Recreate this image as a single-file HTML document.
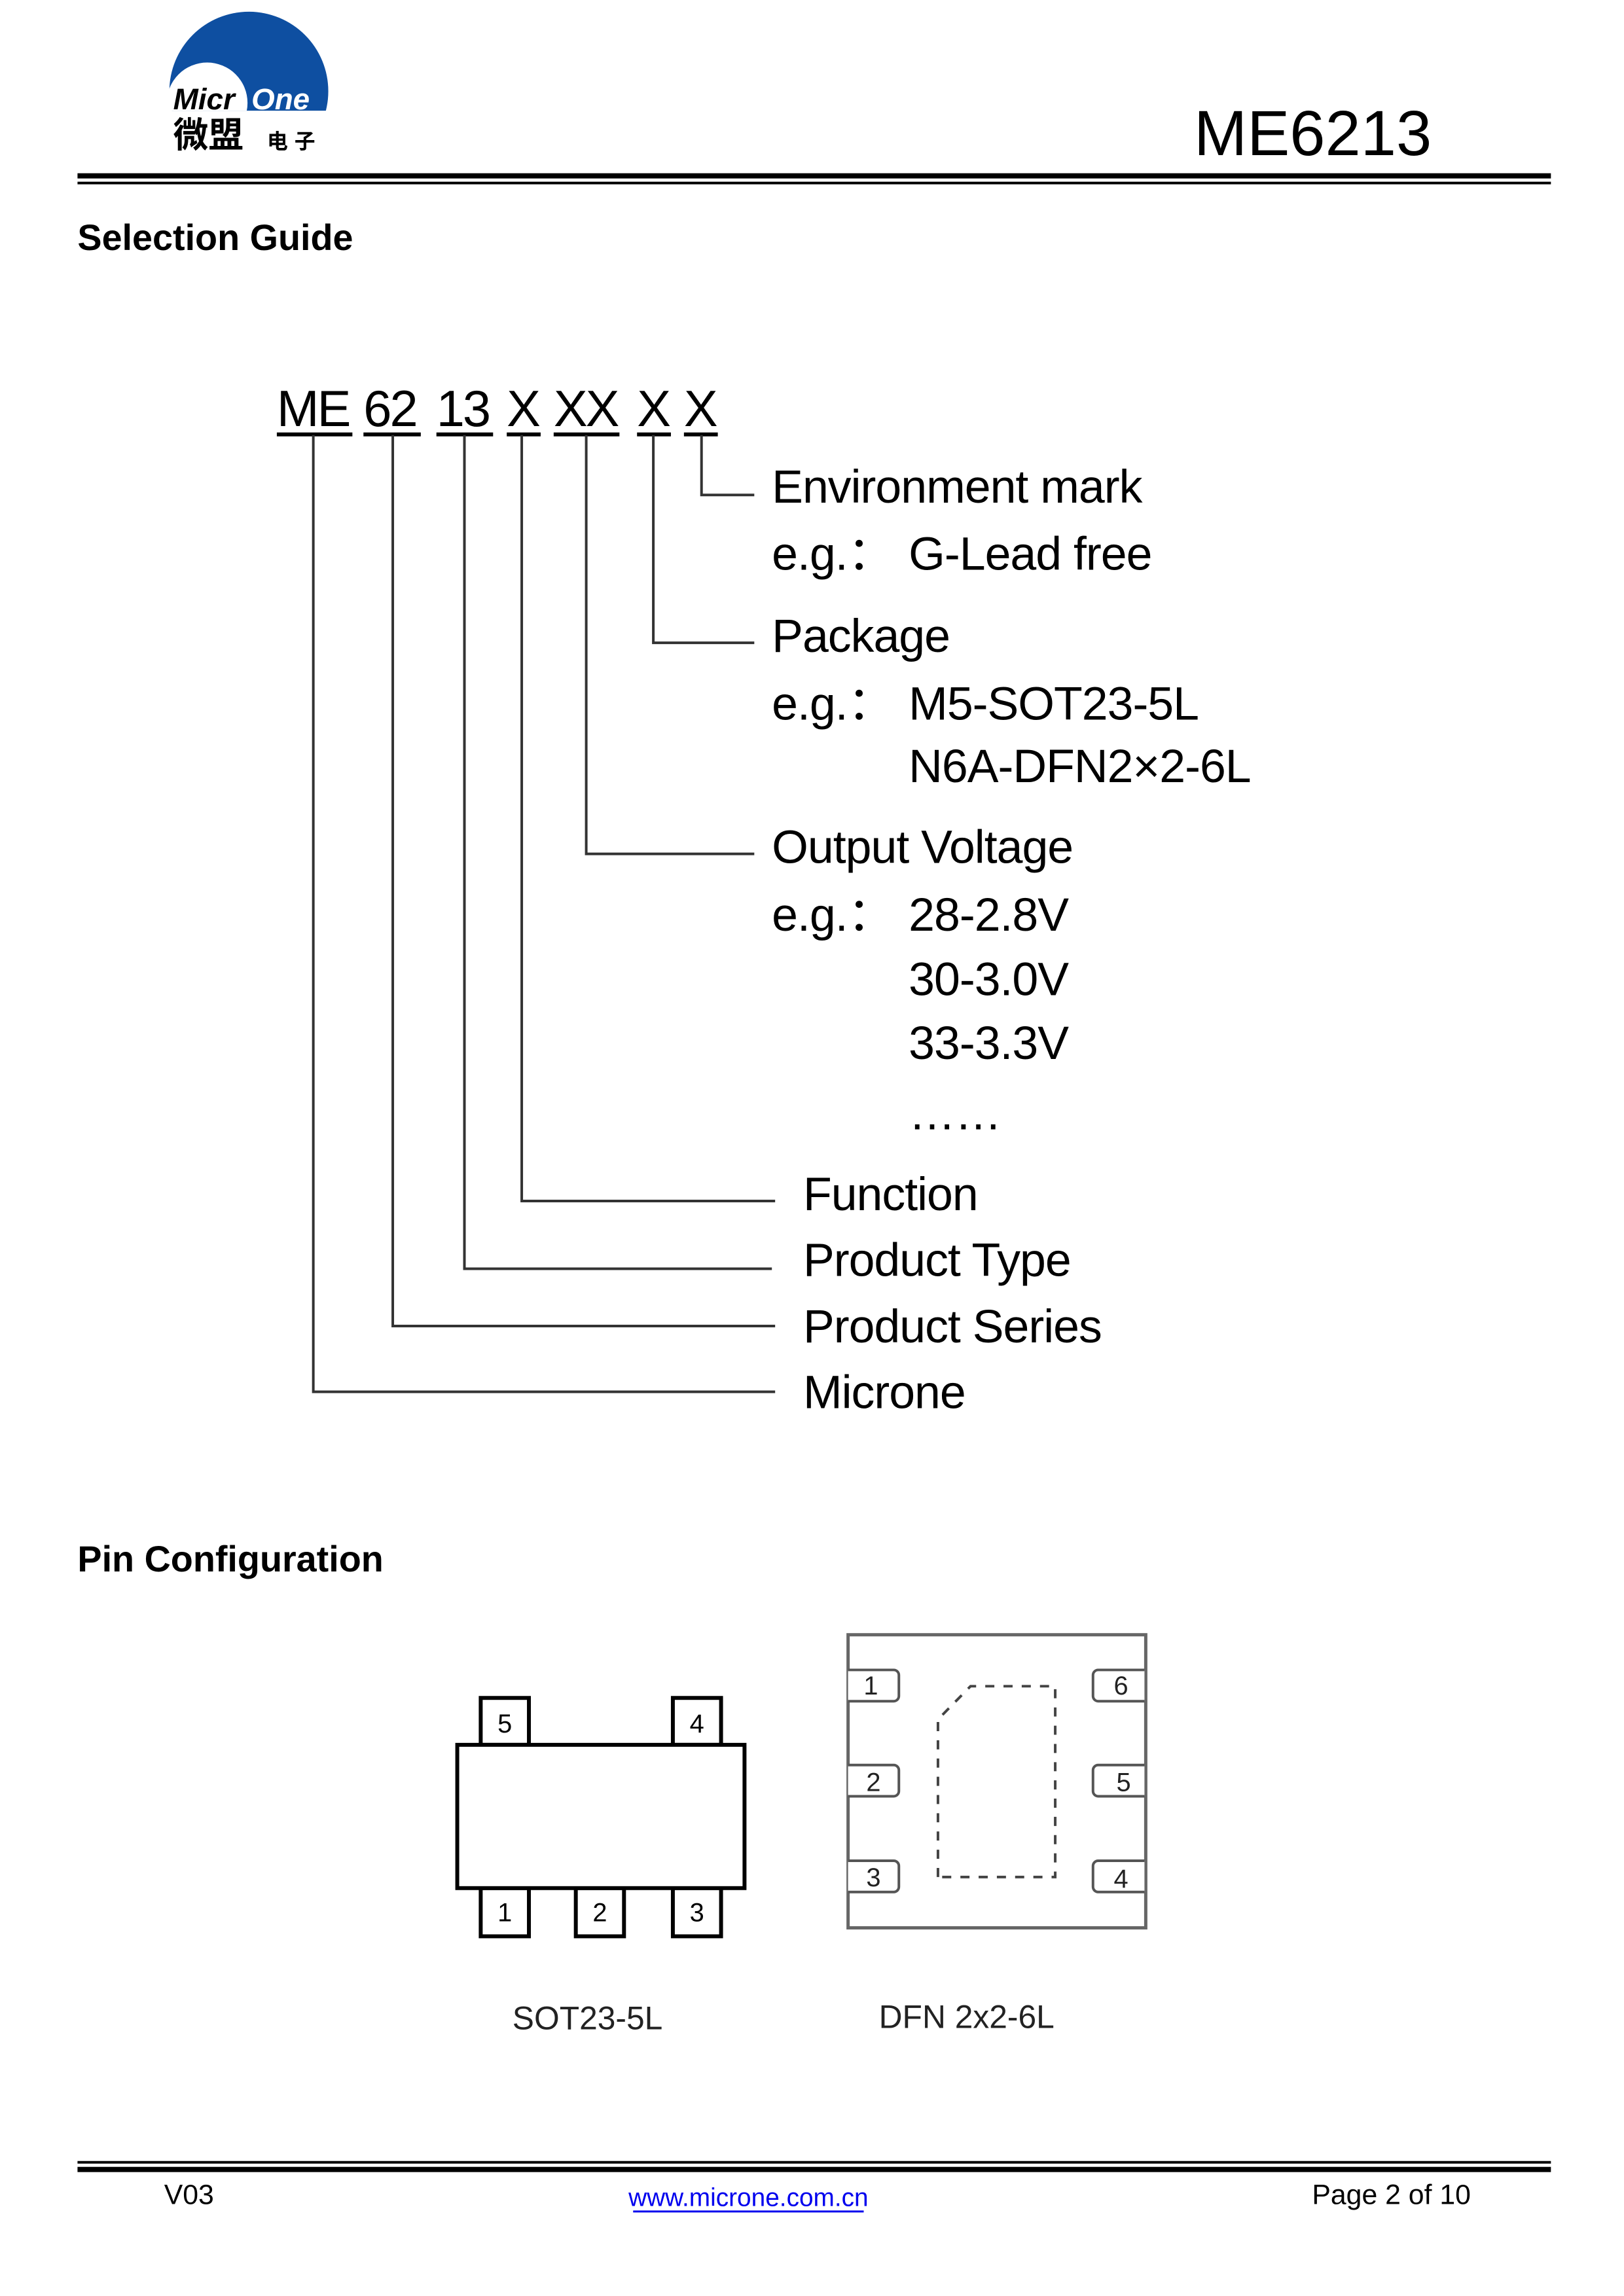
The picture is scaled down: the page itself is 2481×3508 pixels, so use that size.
<!DOCTYPE html>
<html><head><meta charset="utf-8"><style>
html,body{margin:0;padding:0;background:#fff;}
svg{display:block;}
text{font-family:"Liberation Sans","Noto Sans CJK SC",sans-serif;}
</style></head><body>
<svg width="2481" height="3508" viewBox="0 0 2481 3508" xmlns="http://www.w3.org/2000/svg">
<defs><clipPath id="c"><rect x="0" y="0" width="600" height="170"/></clipPath></defs>
<g transform="scale(0.9951)">
<!-- logo -->
<g clip-path="url(#c)">
<circle cx="382" cy="140" r="122" fill="#0e4fa1"/>
<circle cx="318" cy="158" r="62" fill="#fff"/>
</g>
<text x="266" y="168" font-size="46" font-weight="bold" font-style="italic" fill="#000">Micr</text>
<text x="386" y="168" font-size="46" font-weight="bold" font-style="italic" fill="#fff">One</text>
<text x="266" y="226" font-size="54" font-weight="bold" fill="#000" font-family="Noto Sans CJK SC,sans-serif">微盟</text>
<text x="410" y="228" font-size="32" font-weight="bold" fill="#000" font-family="Noto Sans CJK SC,sans-serif" letter-spacing="10">电子</text>
<text x="2198" y="238" font-size="98" text-anchor="end" fill="#000">ME6213</text>
<rect x="119" y="266" width="2262" height="8" fill="#000"/>
<rect x="119" y="279" width="2262" height="4" fill="#000"/>
<text x="119" y="384" font-size="56" font-weight="bold" fill="#000">Selection Guide</text>

<!-- code -->
<g font-size="78" fill="#000" letter-spacing="-3">
<text x="425" y="654">ME</text>
<text x="558" y="654">62</text>
<text x="670" y="654">13</text>
<text x="778" y="654">X</text>
<text x="850" y="654">XX</text>
<text x="978" y="654">X</text>
<text x="1050" y="654">X</text>
</g>
<g fill="#000">
<rect x="425" y="664" width="116" height="6"/>
<rect x="558" y="664" width="88" height="6"/>
<rect x="670" y="664" width="87" height="6"/>
<rect x="778" y="664" width="52" height="6"/>
<rect x="850" y="664" width="101" height="6"/>
<rect x="978" y="664" width="52" height="6"/>
<rect x="1050" y="664" width="52" height="6"/>
</g>
<g stroke="#333" stroke-width="4" fill="none">
<polyline points="1077,668 1077,760 1158,760"/>
<polyline points="1003,668 1003,987 1158,987"/>
<polyline points="900,668 900,1311 1158,1311"/>
<polyline points="801,668 801,1844 1190,1844"/>
<polyline points="713,668 713,1948 1185,1948"/>
<polyline points="603,668 603,2036 1190,2036"/>
<polyline points="481,668 481,2137 1190,2137"/>
</g>
<g font-size="72" fill="#000" letter-spacing="-1">
<text x="1185" y="772">Environment mark</text>
<text x="1185" y="875">e.g.：</text><text x="1395" y="875">G-Lead free</text>
<text x="1185" y="1001">Package</text>
<text x="1185" y="1105">e.g.：</text><text x="1395" y="1105">M5-SOT23-5L</text>
<text x="1395" y="1201">N6A-DFN2×2-6L</text>
<text x="1185" y="1325">Output Voltage</text>
<text x="1185" y="1429">e.g.：</text><text x="1395" y="1429">28-2.8V</text>
<text x="1395" y="1528">30-3.0V</text>
<text x="1395" y="1626">33-3.3V</text>
<text x="1395" y="1734">……</text>
<text x="1233" y="1858">Function</text>
<text x="1233" y="1959">Product Type</text>
<text x="1233" y="2061">Product Series</text>
<text x="1233" y="2162">Microne</text>
</g>

<text x="119" y="2413" font-size="56" font-weight="bold" fill="#000">Pin Configuration</text>

<!-- SOT23-5L -->
<g stroke="#000" stroke-width="6" fill="#fff">
<rect x="738" y="2607" width="74" height="72"/>
<rect x="1033" y="2607" width="74" height="72"/>
<rect x="738" y="2899" width="74" height="74"/>
<rect x="884" y="2899" width="74" height="74"/>
<rect x="1033" y="2899" width="74" height="74"/>
<rect x="702" y="2679" width="441" height="220"/>
</g>
<g font-size="40" fill="#000" text-anchor="middle">
<text x="775" y="2660">5</text><text x="1070" y="2660">4</text>
<text x="775" y="2950">1</text><text x="921" y="2950">2</text><text x="1070" y="2950">3</text>
</g>
<text x="902" y="3116" font-size="50" text-anchor="middle" fill="#222">SOT23-5L</text>

<!-- DFN -->
<rect x="1302" y="2510" width="457" height="450" fill="none" stroke="#666" stroke-width="5"/>
<g stroke="#555" stroke-width="4" fill="#fff">
<path d="M1302 2564 H1372 a8 8 0 0 1 8 8 V2604 a8 8 0 0 1 -8 8 H1302"/>
<path d="M1302 2710 H1372 a8 8 0 0 1 8 8 V2750 a8 8 0 0 1 -8 8 H1302"/>
<path d="M1302 2857 H1372 a8 8 0 0 1 8 8 V2897 a8 8 0 0 1 -8 8 H1302"/>
<path d="M1757 2564 H1686 a8 8 0 0 0 -8 8 V2604 a8 8 0 0 0 8 8 H1757"/>
<path d="M1757 2710 H1686 a8 8 0 0 0 -8 8 V2750 a8 8 0 0 0 8 8 H1757"/>
<path d="M1757 2857 H1686 a8 8 0 0 0 -8 8 V2897 a8 8 0 0 0 8 8 H1757"/>
</g>
<g font-size="40" fill="#222" text-anchor="middle">
<text x="1337" y="2602">1</text><text x="1341" y="2750">2</text><text x="1341" y="2896">3</text>
<text x="1721" y="2602">6</text><text x="1725" y="2750">5</text><text x="1721" y="2898">4</text>
</g>
<path d="M1440 2882 V2640 L1490 2589 H1620 V2882 Z" fill="none" stroke="#444" stroke-width="4" stroke-dasharray="14 14"/>
<text x="1484" y="3114" font-size="50" text-anchor="middle" fill="#222">DFN 2x2-6L</text>

<!-- footer -->
<rect x="119" y="3318" width="2262" height="4" fill="#000"/>
<rect x="119" y="3327" width="2262" height="8" fill="#000"/>
<g font-size="43" fill="#000">
<text x="252" y="3384">V03</text>
<text x="1149" y="3387" text-anchor="middle" fill="#0000ee" font-size="39">www.microne.com.cn</text>
<text x="2258" y="3384" text-anchor="end">Page 2 of 10</text>
</g>
<rect x="972" y="3394" width="354" height="3" fill="#0000ee"/>
</g>
</svg>
</body></html>
